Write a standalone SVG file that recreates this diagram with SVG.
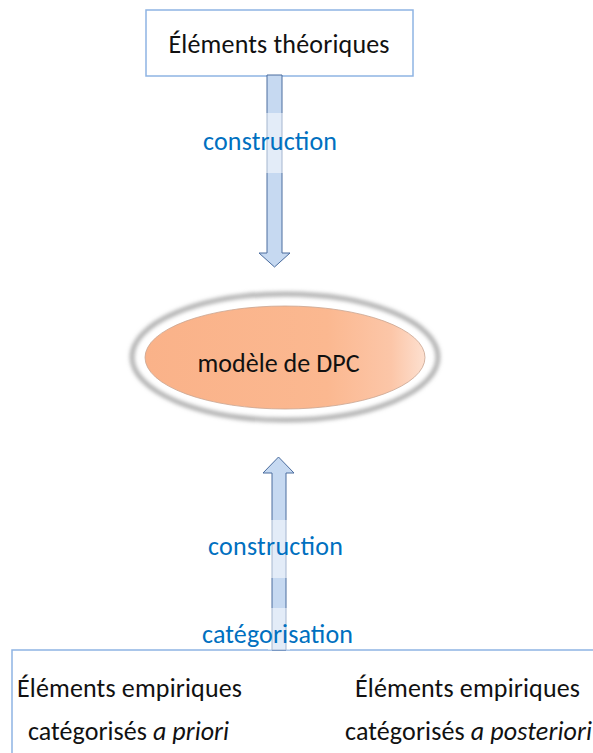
<svg xmlns="http://www.w3.org/2000/svg" width="593" height="753" viewBox="0 0 593 753">
  <style>
    .box { fill: #ffffff; stroke: #8EB4E3; stroke-width: 1.5; }
    .txt { font-family: Carlito, Lato, "Liberation Sans", sans-serif; font-size: 26px; fill: #111111; text-anchor: middle; }
    .lbl { font-family: Carlito, Lato, "Liberation Sans", sans-serif; font-size: 26px; fill: #0070C0; text-anchor: middle; }
    .arrow { fill: #C6D9F1; stroke: #4A6C9E; stroke-width: 1; stroke-linejoin: miter; }
    .lblbg { fill: #ffffff; fill-opacity: 0.5; }
  </style>
  <defs>
    <linearGradient id="orange" x1="0" y1="0" x2="1" y2="0">
      <stop offset="0" stop-color="#FAB289"/>
      <stop offset="0.65" stop-color="#FBB890"/>
      <stop offset="0.88" stop-color="#FCC6A8"/>
      <stop offset="1" stop-color="#FDE0D0"/>
    </linearGradient>
    <filter id="blur" x="-20%" y="-40%" width="140%" height="180%">
      <feGaussianBlur stdDeviation="2.2"/>
    </filter>
  </defs>

  <g id="node-theoretical">
    <rect class="box" x="146" y="10" width="267" height="66"/>
    <text class="txt" x="279" y="53" textLength="221" lengthAdjust="spacing">Éléments théoriques</text>
  </g>

  <g id="node-model">
    <ellipse cx="285" cy="357" rx="153" ry="63" fill="none" stroke="#A0A0A0" stroke-width="4" filter="url(#blur)"/>
    <ellipse cx="285" cy="357.5" rx="140" ry="51.5" fill="url(#orange)" stroke="#C9A590" stroke-width="0.8"/>
    <text class="txt" x="278.5" y="372" textLength="162" lengthAdjust="spacing">modèle de DPC</text>
  </g>

  <g id="node-empirical">
    <rect class="box" x="12" y="650" width="600" height="130"/>
    <text class="txt" x="129.5" y="697" textLength="225" lengthAdjust="spacing">Éléments empiriques</text>
    <text class="txt" x="128.5" y="740" textLength="201" lengthAdjust="spacing">catégorisés <tspan font-style="italic">a priori</tspan></text>
    <text class="txt" x="467.5" y="697" textLength="225" lengthAdjust="spacing">Éléments empiriques</text>
    <text class="txt" x="468.5" y="740" textLength="247" lengthAdjust="spacing">catégorisés <tspan font-style="italic">a posteriori</tspan></text>
  </g>

  <g id="connectors">
    <g id="edge-theory-model">
      <path class="arrow" d="M267,75 L282,75 L282,253 L290,253 L274.5,267 L259,253 L267,253 Z"/>
      <rect class="lblbg" x="262" y="113" width="25" height="60"/>
      <text class="lbl" x="270" y="150" textLength="134" lengthAdjust="spacing">construction</text>
    </g>
    <g id="edge-empirical-model">
      <path class="arrow" d="M272,650 L272,473 L263,473 L278.5,457 L294,473 L286,473 L286,650 Z"/>
      <rect class="lblbg" x="268" y="520" width="22" height="58"/>
      <rect class="lblbg" x="268" y="608" width="22" height="42"/>
      <text class="lbl" x="275.5" y="555" textLength="135" lengthAdjust="spacing">construction</text>
      <text class="lbl" x="277.5" y="643" textLength="151" lengthAdjust="spacing">catégorisation</text>
    </g>
  </g>
</svg>
